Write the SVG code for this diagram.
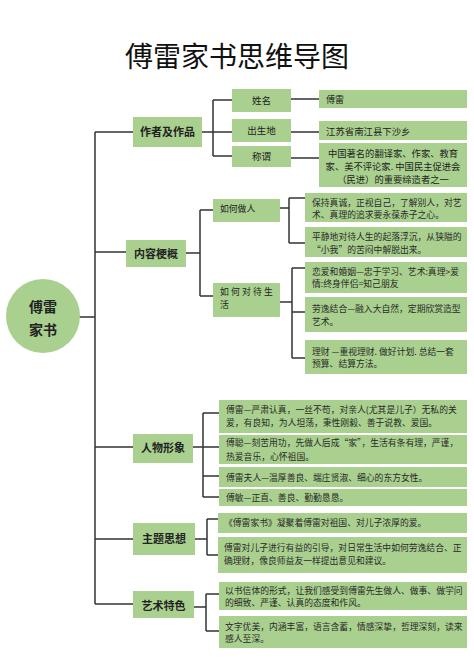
<svg xmlns="http://www.w3.org/2000/svg" width="474" height="670" viewBox="0 0 474 670">
<style>
text{font-family:"Noto Sans CJK SC","Noto Sans",sans-serif;fill:#222}
.box{fill:#a9d08e}
.t1{font-size:11px;font-weight:bold;text-anchor:middle}
.t2{font-size:9.5px;text-anchor:middle}
.t3{font-size:9px}
.d{font-size:8.8px;fill:#2a2a2a}
.c{fill:none;stroke:#333;stroke-width:1.5}
</style>
<rect width="474" height="670" fill="#fff"/>
<text x="237" y="67" style="font-size:28px;text-anchor:middle;fill:#111">傅雷家书思维导图</text>

<g id="connectors" class="c">
<path d="M79 317H95M95 132V604"/>
<path d="M95 132H133M202 132H213M213 100V156M213 100H232M213 132H232M213 156H232M291 99H319M291 132H319M291 158H319"/>
<path d="M95 252H126M186 253H200M200 210V296M200 210H213M200 296H213"/>
<path d="M280 208H289M289 198V243M289 198H305M289 243H305"/>
<path d="M280 302H292M292 268V358M292 268H305M292 312H305M292 358H305"/>
<path d="M95 447H133M193 447H219M203 413V497M203 413H219M203 476H219M203 497H219"/>
<path d="M95 539H133M195 539H207M207 519V555M207 519H218M207 555H218"/>
<path d="M95 604H133M194 607H206M206 594V631M206 594H219M206 631H219"/>
</g>

<g id="root">
<circle cx="43" cy="316" r="37" class="box"/>
<text x="43" y="312" style="font-size:14px;font-weight:bold;text-anchor:middle">傅雷</text>
<text x="43" y="335" style="font-size:14px;font-weight:bold;text-anchor:middle">家书</text>
</g>

<g id="n-author">
<rect x="133" y="117" width="69" height="30" class="box"/>
<text x="167.5" y="136" class="t1">作者及作品</text>
</g>
<g id="n-name">
<rect x="232" y="89" width="59" height="23" class="box"/>
<text x="261.5" y="104" class="t2">姓名</text>
</g>
<g id="n-birth">
<rect x="232" y="119" width="59" height="23" class="box"/>
<text x="261.5" y="134" class="t2">出生地</text>
</g>
<g id="n-title">
<rect x="232" y="146" width="59" height="21" class="box"/>
<text x="261.5" y="160" class="t2">称谓</text>
</g>
<g id="d-name">
<rect x="319" y="90" width="148" height="18" class="box"/>
<text x="326" y="102.5" class="t3">傅雷</text>
</g>
<g id="d-birth">
<rect x="319" y="121" width="148" height="19" class="box"/>
<text x="326" y="134.5" style="font-size:9.4px">江苏省南江县下沙乡</text>
</g>
<g id="d-title">
<rect x="319" y="143" width="148" height="44" class="box"/>
<text x="393" y="156.5" style="font-size:9.3px;text-anchor:middle">中国著名的翻译家、作家、教育</text>
<text x="393" y="169.5" style="font-size:9.3px;text-anchor:middle">家、美不评论家. 中国民主促进会</text>
<text x="393" y="182.5" style="font-size:9.3px;text-anchor:middle">（民进）的重要缔造者之一</text>
</g>

<g id="n-content">
<rect x="126" y="240" width="60" height="27" class="box"/>
<text x="156" y="258" class="t1">内容梗概</text>
</g>
<g id="n-person">
<rect x="213" y="199" width="67" height="23" class="box"/>
<text x="220" y="211.5" style="font-size:8.8px">如何做人</text>
</g>
<g id="d-p1">
<rect x="305" y="193" width="162" height="29" class="box"/>
<text x="312" y="206.3" class="d">保持真诚，正视自己，了解别人，对艺</text>
<text x="312" y="218.3" class="d">术、真理的追求要永葆赤子之心。</text>
</g>
<g id="d-p2">
<rect x="305" y="227" width="162" height="30" class="box"/>
<text x="312" y="240.3" class="d">平静地对待人生的起落浮沉，从狭隘的</text>
<text x="312" y="253.3" class="d">“小我”的苦闷中解脱出来。</text>
</g>
<g id="n-life">
<rect x="213" y="283" width="67" height="34" class="box"/>
<text x="220" y="295.3" style="font-size:8.8px;letter-spacing:2.2px">如何对待生</text>
<text x="220" y="308.3" style="font-size:8.8px">活</text>
</g>
<g id="d-l1">
<rect x="305" y="262" width="162" height="31" class="box"/>
<text x="312" y="275.3" class="d">恋爱和婚姻—忠于学习、艺术:真理&gt;爱</text>
<text x="312" y="287.3" class="d">情:终身伴侣=知己朋友</text>
</g>
<g id="d-l2">
<rect x="305" y="297" width="162" height="35" class="box"/>
<text x="312" y="312.3" class="d">劳逸结合—融入大自然，定期欣赏造型</text>
<text x="312" y="325.3" class="d">艺术。</text>
</g>
<g id="d-l3">
<rect x="305" y="340" width="162" height="34" class="box"/>
<text x="312" y="355.3" class="d">理财 —重视理财. 做好计划. 总结一套</text>
<text x="312" y="367.3" class="d">预算、结算方法。</text>
</g>

<g id="n-character">
<rect x="133" y="434" width="60" height="29" class="box"/>
<text x="163" y="452" class="t1">人物形象</text>
</g>
<g id="d-c1">
<rect x="219" y="400" width="248" height="33" class="box"/>
<text x="226" y="413.3" class="d">傅雷—严肃认真，一丝不苟，对亲人(尤其是儿子）无私的关</text>
<text x="226" y="426.3" class="d">爱，有良知，为人坦荡，秉性刚毅、善于说教、爱国。</text>
</g>
<g id="d-c2">
<rect x="219" y="435" width="248" height="29" class="box"/>
<text x="226" y="446.3" class="d">傅聪—刻苦用功，先做人后成“家”，生活有条有理，严谨，</text>
<text x="226" y="460.3" class="d">热爱音乐，心怀祖国。</text>
</g>
<g id="d-c3">
<rect x="219" y="467" width="248" height="20" class="box"/>
<text x="226" y="481.3" class="d">傅雷夫人—温厚善良、端庄贤淑、细心的东方女性。</text>
</g>
<g id="d-c4">
<rect x="219" y="489" width="248" height="17" class="box"/>
<text x="226" y="501.3" class="d">傅敏—正直、善良、勤勤恳恳。</text>
</g>

<g id="n-theme">
<rect x="133" y="523" width="62" height="32" class="box"/>
<text x="164" y="543" class="t1">主题思想</text>
</g>
<g id="d-t1">
<rect x="218" y="513" width="249" height="20" class="box"/>
<text x="224" y="526.3" class="d">《傅雷家书》凝聚着傅雷对祖国、对儿子浓厚的爱。</text>
</g>
<g id="d-t2">
<rect x="218" y="537" width="249" height="36" class="box"/>
<text x="224" y="551.3" class="d">傅雷对儿子进行有益的引导，对日常生活中如何劳逸结合、正</text>
<text x="224" y="564.3" class="d">确理财，像良师益友一样提出意见和建议。</text>
</g>

<g id="n-art">
<rect x="133" y="591" width="61" height="27" class="box"/>
<text x="163.5" y="610" class="t1">艺术特色</text>
</g>
<g id="d-a1">
<rect x="219" y="582" width="248" height="28" class="box"/>
<text x="225" y="594.3" class="d">以书信体的形式，让我们感受到傅雷先生做人、做事、做学问</text>
<text x="225" y="606.3" class="d">的细致、严谨、认真的态度和作风。</text>
</g>
<g id="d-a2">
<rect x="219" y="616" width="248" height="32" class="box"/>
<text x="225" y="629.5" class="d">文字优美，内涵丰富，语言含蓄，情感深挚，哲理深刻，读来</text>
<text x="225" y="642" class="d">感人至深。</text>
</g>
</svg>
